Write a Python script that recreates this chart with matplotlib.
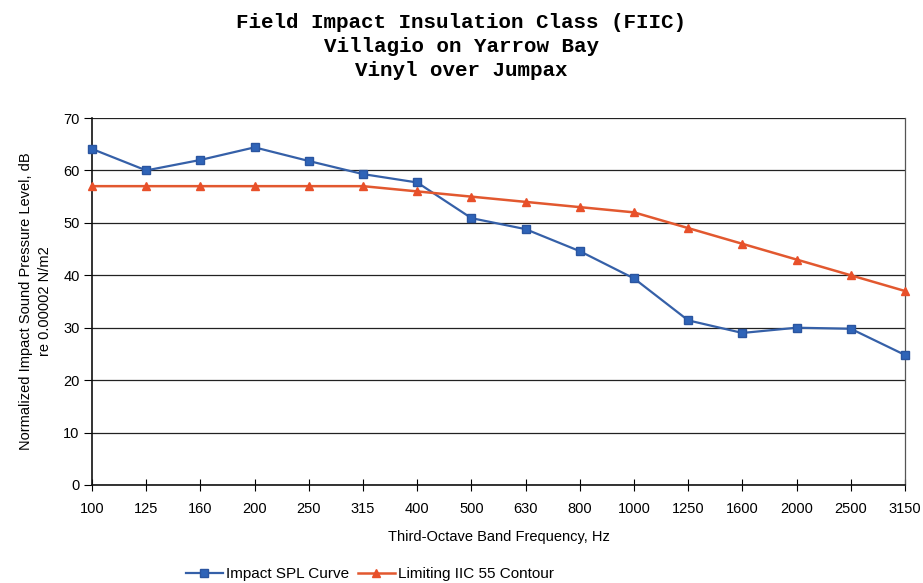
import matplotlib
matplotlib.use("Agg")
import matplotlib.pyplot as plt

freqs = ["100", "125", "160", "200", "250", "315", "400", "500", "630", "800",
         "1000", "1250", "1600", "2000", "2500", "3150"]
impact_spl = [64.1, 60.0, 62.0, 64.4, 61.8, 59.3, 57.7, 50.9, 48.8, 44.6,
              39.4, 31.4, 29.0, 30.0, 29.8, 24.8]
iic55 = [57, 57, 57, 57, 57, 57, 56, 55, 54, 53, 52, 49, 46, 43, 40, 37]
yticks = [0, 10, 20, 30, 40, 50, 60, 70]

fig = plt.figure(figsize=(9.23, 5.83), dpi=100)
ax = fig.add_axes([92/923, 1-485/583, (905-92)/923, (485-118)/583])

x = list(range(len(freqs)))
ax.plot(x, impact_spl, color="#3560A8", lw=1.6, marker="s", ms=6,
        markerfacecolor="#2F64B8", markeredgecolor="#2A55A0", label="Impact SPL Curve",
        zorder=3, clip_on=False)
ax.plot(x, iic55, color="#E2582F", lw=1.8, marker="^", ms=6,
        markerfacecolor="#E8502A", markeredgecolor="#E8502A", label="Limiting IIC 55 Contour",
        zorder=3, clip_on=False)

ax.set_xlim(0, len(freqs)-1)
ax.set_ylim(0, 70)
ax.set_xticks(x)
ax.set_xticklabels(freqs, fontsize=10.5, family="Liberation Sans")
ax.set_yticks(yticks)
ax.set_yticklabels([str(v) for v in yticks], fontsize=10.5, family="Liberation Sans")
ax.tick_params(axis="x", direction="inout", length=8, width=0.8, pad=8)
ax.tick_params(axis="y", direction="out", length=6, width=0.8, pad=3)
ax.yaxis.grid(True, color="#222222", lw=0.9)
ax.set_axisbelow(True)
for s in ["left", "bottom"]:
    ax.spines[s].set_color("#111111")
    ax.spines[s].set_linewidth(1.2)
ax.spines["top"].set_visible(False)
ax.spines["right"].set_color("#555555")
ax.spines["right"].set_linewidth(0.9)

ax.set_xlabel("Third-Octave Band Frequency, Hz", fontsize=10.5, family="Liberation Sans", labelpad=10)
ax.set_ylabel("Normalized Impact Sound Pressure Level, dB\nre 0.00002 N/m2", fontsize=10.5,
              family="Liberation Sans", labelpad=8, linespacing=1.45)

for txt, yy in [("Field Impact Insulation Class (FIIC)", 23),
                ("Villagio on Yarrow Bay", 47),
                ("Vinyl over Jumpax", 71)]:
    fig.text(0.5, 1-yy/583, txt, ha="center", va="center",
             fontsize=15, family="Liberation Mono", weight="bold")

leg = fig.legend(loc="center", bbox_to_anchor=(370/923, 1-574/583), ncol=2, frameon=False,
                 prop={"family": "Liberation Sans", "size": 11}, handlelength=2.4,
                 columnspacing=0.6, handletextpad=0.2, markerscale=0.85)

fig.savefig("out.png", dpi=100)
